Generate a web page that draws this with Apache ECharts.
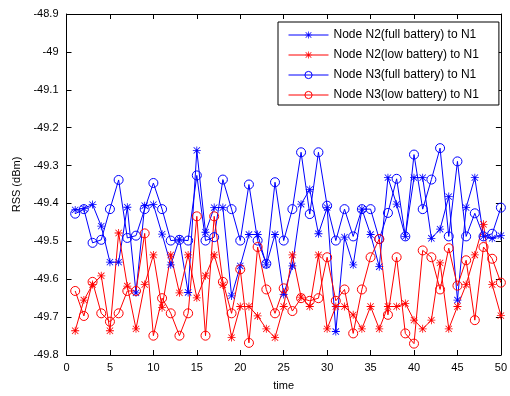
<!DOCTYPE html>
<html>
<head>
<meta charset="utf-8">
<script src="https://cdn.jsdelivr.net/npm/echarts@6/dist/echarts.min.js"></script>
<style>
  html, body { margin: 0; padding: 0; background: #fff; }
  #chart { width: 510px; height: 396px; }
</style>
</head>
<body>
<div id="chart"></div>
<script>
// Sample times (x axis)
const time = [1, 2, 3, 4, 5, 6, 7, 8, 9, 10,
  11, 12, 13, 14, 15, 16, 17, 18, 19, 20,
  21, 22, 23, 24, 25, 26, 27, 28, 29, 30,
  31, 32, 33, 34, 35, 36, 37, 38, 39, 40,
  41, 42, 43, 44, 45, 46, 47, 48, 49, 50];

// RSS readings in dBm
const n2Full = [-49.417, -49.413, -49.403, -49.460, -49.555, -49.555, -49.410, -49.636, -49.406, -49.403,
  -49.481, -49.562, -49.494, -49.635, -49.260, -49.476, -49.411, -49.411, -49.644, -49.565,
  -49.482, -49.482, -49.562, -49.482, -49.640, -49.565, -49.402, -49.363, -49.480, -49.411,
  -49.738, -49.489, -49.562, -49.415, -49.482, -49.567, -49.332, -49.402, -49.487, -49.332,
  -49.332, -49.492, -49.468, -49.382, -49.655, -49.411, -49.332, -49.487, -49.492, -49.485];

const n2Low = [-49.736, -49.655, -49.614, -49.591, -49.736, -49.478, -49.618, -49.731, -49.614, -49.536,
  -49.675, -49.536, -49.636, -49.536, -49.649, -49.591, -49.536, -49.615, -49.754, -49.672,
  -49.672, -49.697, -49.731, -49.754, -49.672, -49.536, -49.647, -49.672, -49.536, -49.731,
  -49.672, -49.672, -49.694, -49.731, -49.672, -49.731, -49.672, -49.672, -49.664, -49.708,
  -49.731, -49.708, -49.557, -49.731, -49.672, -49.614, -49.536, -49.455, -49.614, -49.696];

const n3Full = [-49.427, -49.415, -49.504, -49.496, -49.415, -49.338, -49.491, -49.485, -49.415, -49.346,
  -49.415, -49.498, -49.496, -49.498, -49.326, -49.498, -49.489, -49.337, -49.415, -49.498,
  -49.350, -49.498, -49.559, -49.344, -49.498, -49.415, -49.265, -49.428, -49.265, -49.406,
  -49.498, -49.415, -49.487, -49.415, -49.415, -49.494, -49.425, -49.335, -49.487, -49.271,
  -49.415, -49.337, -49.254, -49.487, -49.289, -49.487, -49.426, -49.487, -49.480, -49.411];

const n3Low = [-49.631, -49.697, -49.607, -49.690, -49.712, -49.690, -49.631, -49.631, -49.479, -49.749,
  -49.650, -49.690, -49.749, -49.690, -49.434, -49.749, -49.434, -49.607, -49.690, -49.574,
  -49.768, -49.515, -49.627, -49.690, -49.624, -49.684, -49.650, -49.657, -49.650, -49.542,
  -49.657, -49.627, -49.743, -49.627, -49.542, -49.494, -49.694, -49.542, -49.743, -49.770,
  -49.524, -49.542, -49.627, -49.518, -49.617, -49.550, -49.708, -49.515, -49.546, -49.609];

const seriesNames = [
  'Node N2(full battery) to N1',
  'Node N2(low battery) to N1',
  'Node N3(full battery) to N1',
  'Node N3(low battery) to N1'
];

// Asterisk marker: plus and cross built from thin bars
const asterisk = 'path://M0 9L20 9L20 11L0 11Z' +
  'M9 0L11 0L11 20L9 20Z' +
  'M1.4 2.8L2.8 1.4L18.6 17.2L17.2 18.6Z' +
  'M17.2 1.4L18.6 2.8L2.8 18.6L1.4 17.2Z';

const FONT = 'Liberation Sans, Arial, sans-serif';
const BLUE = '#0000ff';
const RED = '#ff0000';

function pairs(vals) {
  return vals.map((v, i) => [time[i], v]);
}

function starSeries(name, vals, color) {
  return {
    name: name, type: 'line', data: pairs(vals),
    symbol: asterisk, symbolSize: 8,
    lineStyle: { color: color, width: 1 },
    itemStyle: { color: color },
    animation: false
  };
}

function circleSeries(name, vals, color) {
  return {
    name: name, type: 'line', data: pairs(vals),
    symbol: 'circle', symbolSize: 9,
    lineStyle: { color: color, width: 1 },
    itemStyle: { color: 'rgba(0,0,0,0)', borderColor: color, borderWidth: 1 },
    animation: false
  };
}

const axisCommon = {
  axisLine: { show: true, onZero: false, lineStyle: { color: '#000', width: 1 } },
  axisTick: { show: true, inside: true, length: 5, lineStyle: { color: '#000' } },
  splitLine: { show: false }
};

const chart = echarts.init(document.getElementById('chart'), null, { renderer: 'canvas' });
chart.setOption({
  backgroundColor: '#fff',
  animation: false,
  grid: { left: 66.5, right: 4, top: 14, bottom: 39 },
  xAxis: [
    Object.assign({
      type: 'value', position: 'bottom', min: 0, max: 50, interval: 5,
      name: 'time', nameLocation: 'middle', nameGap: 25,
      nameTextStyle: { color: '#000', fontFamily: FONT, fontSize: 11 },
      axisLabel: { color: '#000', fontFamily: FONT, fontSize: 11, margin: 7 }
    }, axisCommon),
    Object.assign({
      type: 'value', position: 'top', min: 0, max: 50, interval: 5,
      axisLabel: { show: false }
    }, axisCommon)
  ],
  yAxis: [
    Object.assign({
      type: 'value', position: 'left', min: -49.8, max: -48.9, interval: 0.1,
      name: 'RSS (dBm)', nameLocation: 'middle', nameGap: 43,
      nameTextStyle: { color: '#000', fontFamily: FONT, fontSize: 11 },
      axisLabel: {
        color: '#000', fontFamily: FONT, fontSize: 11, margin: 8,
        formatter: v => String(+v.toFixed(1))
      }
    }, axisCommon),
    Object.assign({
      type: 'value', position: 'right', min: -49.8, max: -48.9, interval: 0.1,
      axisLabel: { show: false }
    }, axisCommon)
  ],
  legend: {
    orient: 'vertical', left: 278, top: 22,
    padding: [6, 20, 3, 10], itemGap: 6,
    itemWidth: 40, itemHeight: 9,
    lineStyle: { width: 1 },
    itemStyle: { borderWidth: 1 },
    backgroundColor: '#fff', borderColor: '#000', borderWidth: 1,
    textStyle: { color: '#000', fontFamily: FONT, fontSize: 12, lineHeight: 14 },
    data: seriesNames
  },
  series: [
    starSeries(seriesNames[0], n2Full, BLUE),
    starSeries(seriesNames[1], n2Low, RED),
    circleSeries(seriesNames[2], n3Full, BLUE),
    circleSeries(seriesNames[3], n3Low, RED)
  ]
});
</script>
</body>
</html>
